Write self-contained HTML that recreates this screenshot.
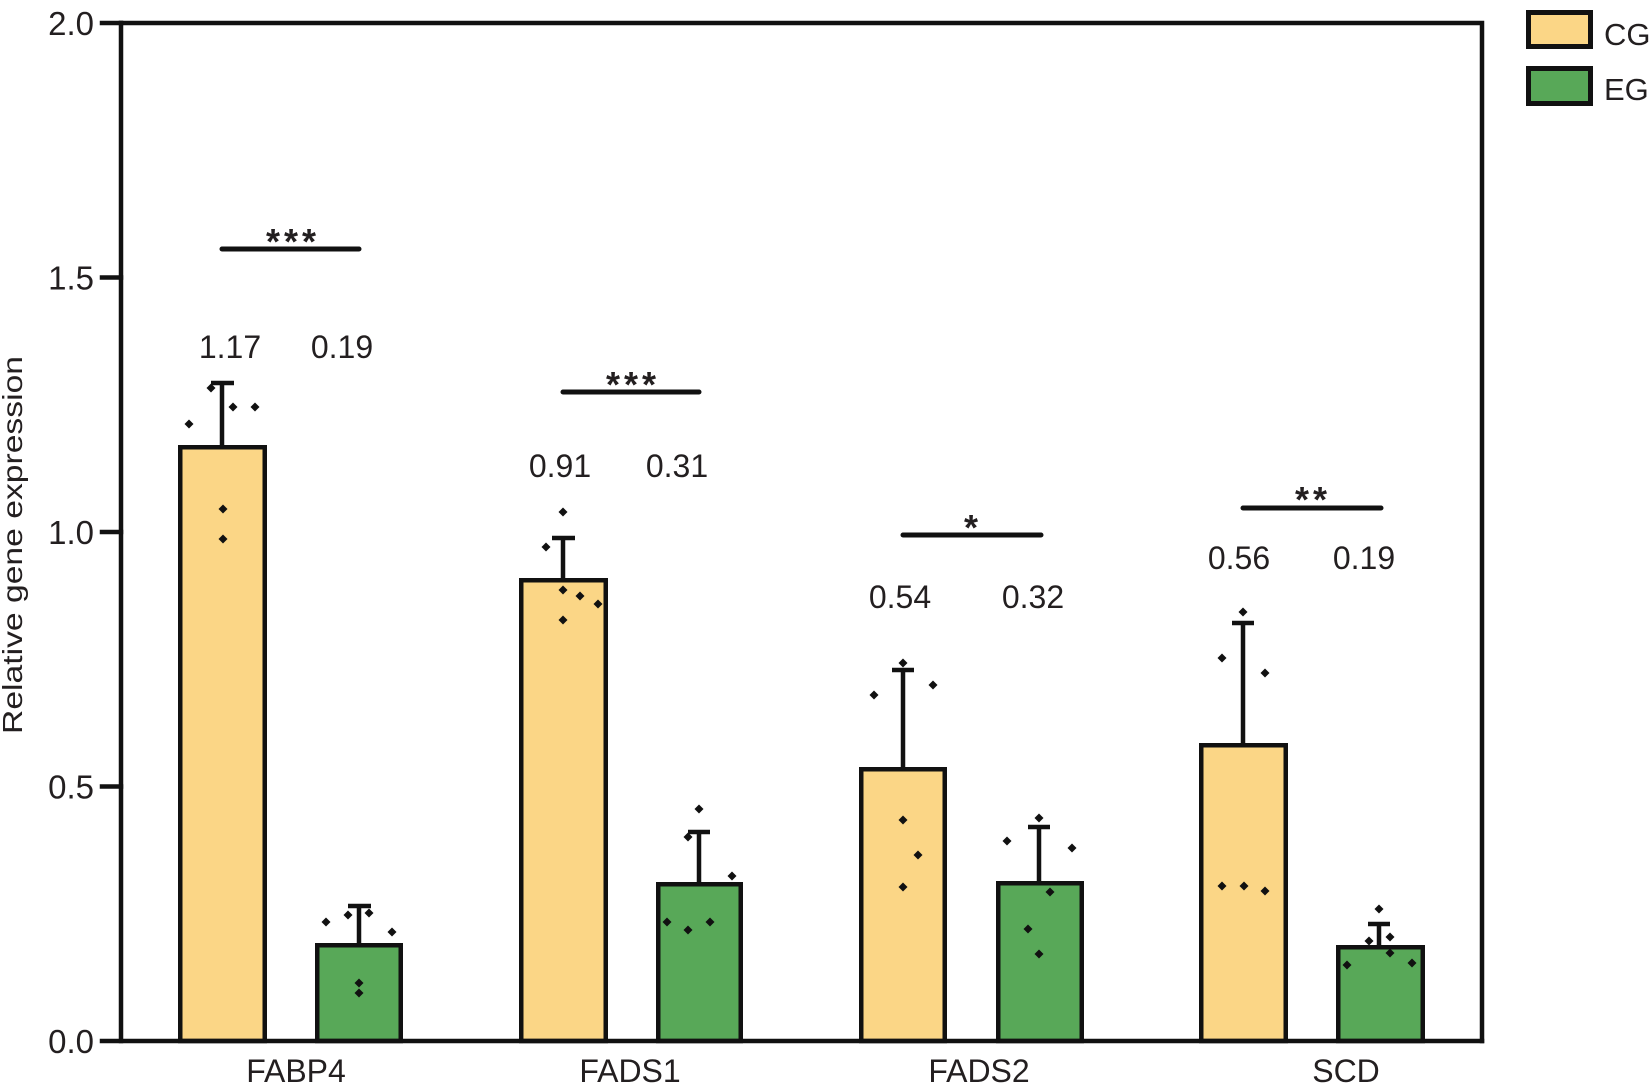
<!DOCTYPE html>
<html>
<head>
<meta charset="utf-8">
<style>
  html,body{margin:0;padding:0;background:#fff;}
  svg{display:block;}
  text{font-family:"Liberation Sans", Arial, sans-serif; fill:#231f20;}
</style>
</head>
<body>
<svg width="1651" height="1084" viewBox="0 0 1651 1084" xmlns="http://www.w3.org/2000/svg">
  <defs>
    <path id="d" d="M0 -4.5l4.5 4.5l-4.5 4.5l-4.5 -4.5z"/>
  </defs>
  <rect x="0" y="0" width="1651" height="1084" fill="#fff"/>

  <!-- Bars -->
  <g stroke="#111" stroke-width="4.5">
    <rect x="180.25" y="447.25" width="84.5" height="593.75" fill="#FBD686"/>
    <rect x="317.25" y="945.25" width="83.5" height="95.75" fill="#58A858"/>
    <rect x="521.25" y="580.25" width="84.5" height="460.75" fill="#FBD686"/>
    <rect x="658.25" y="884.25" width="82.5" height="156.75" fill="#58A858"/>
    <rect x="861.25" y="769.25" width="83.5" height="271.75" fill="#FBD686"/>
    <rect x="998.25" y="883.25" width="83.5" height="157.75" fill="#58A858"/>
    <rect x="1201.25" y="745.25" width="84.5" height="295.75" fill="#FBD686"/>
    <rect x="1338.25" y="947.25" width="84.5" height="93.75" fill="#58A858"/>
  </g>

  <!-- Error bars -->
  <g stroke="#111" stroke-width="4.5" fill="none">
    <path d="M222 447 V383 M211 383 H234"/>
    <path d="M359 945 V906 M348 906 H371"/>
    <path d="M563 580 V538 M552 538 H575"/>
    <path d="M699 884 V832 M688 832 H710"/>
    <path d="M903 769 V670 M892 670 H914"/>
    <path d="M1039 883 V827 M1028 827 H1050"/>
    <path d="M1243 745 V623 M1232 623 H1254"/>
    <path d="M1379 947 V924 M1368 924 H1390"/>
  </g>

  <!-- Dots -->
  <g fill="#111">
    <use href="#d" x="189" y="424"/><use href="#d" x="211" y="388"/><use href="#d" x="233" y="407"/>
    <use href="#d" x="255" y="407"/><use href="#d" x="223" y="509"/><use href="#d" x="223" y="539"/>

    <use href="#d" x="326" y="922"/><use href="#d" x="348" y="915"/><use href="#d" x="369" y="913"/>
    <use href="#d" x="392" y="932"/><use href="#d" x="359" y="983"/><use href="#d" x="359" y="993"/>

    <use href="#d" x="563" y="512"/><use href="#d" x="546" y="547"/><use href="#d" x="563" y="590"/>
    <use href="#d" x="580" y="596"/><use href="#d" x="598" y="604"/><use href="#d" x="563" y="620"/>

    <use href="#d" x="699" y="809"/><use href="#d" x="688" y="837"/><use href="#d" x="732" y="876"/>
    <use href="#d" x="667" y="922"/><use href="#d" x="688" y="930"/><use href="#d" x="710" y="922"/>

    <use href="#d" x="903" y="663"/><use href="#d" x="874" y="695"/><use href="#d" x="933" y="685"/>
    <use href="#d" x="903" y="820"/><use href="#d" x="918" y="855"/><use href="#d" x="903" y="887"/>

    <use href="#d" x="1039" y="818"/><use href="#d" x="1007" y="841"/><use href="#d" x="1072" y="848"/>
    <use href="#d" x="1050" y="892"/><use href="#d" x="1028" y="929"/><use href="#d" x="1039" y="954"/>

    <use href="#d" x="1243" y="612"/><use href="#d" x="1222" y="658"/><use href="#d" x="1265" y="673"/>
    <use href="#d" x="1222" y="886"/><use href="#d" x="1244" y="886"/><use href="#d" x="1265" y="891"/>

    <use href="#d" x="1379" y="909"/><use href="#d" x="1369" y="941"/><use href="#d" x="1390" y="937"/>
    <use href="#d" x="1390" y="953"/><use href="#d" x="1347" y="965"/><use href="#d" x="1412" y="963"/>
  </g>

  <!-- Frame and axes -->
  <g stroke="#111" stroke-width="4.5" fill="none" stroke-linecap="square">
    <path d="M121 23 H1482 V1041"/>
    <path d="M121 23 V1041"/>
    <path d="M102 1041 H1482"/>
    <path d="M102 23 H121 M102 277.5 H121 M102 532 H121 M102 786.5 H121"/>
  </g>

  <!-- Tick labels -->
  <g font-size="33" text-anchor="end">
    <text x="94" y="35">2.0</text>
    <text x="94" y="289.5">1.5</text>
    <text x="94" y="544">1.0</text>
    <text x="94" y="798.5">0.5</text>
    <text x="94" y="1053">0.0</text>
  </g>

  <!-- Y axis label -->
  <text transform="translate(22,545) rotate(-90)" font-size="28" text-anchor="middle" textLength="378" lengthAdjust="spacingAndGlyphs">Relative gene expression</text>

  <!-- Category labels -->
  <g font-size="32" text-anchor="middle">
    <text x="296" y="1082">FABP4</text>
    <text x="630" y="1082">FADS1</text>
    <text x="979" y="1082">FADS2</text>
    <text x="1346" y="1082">SCD</text>
  </g>

  <!-- Value labels -->
  <g font-size="32" text-anchor="middle">
    <text x="230" y="358">1.17</text>
    <text x="342" y="358">0.19</text>
    <text x="560" y="477">0.91</text>
    <text x="677" y="477">0.31</text>
    <text x="900" y="608">0.54</text>
    <text x="1033" y="608">0.32</text>
    <text x="1239" y="569">0.56</text>
    <text x="1364" y="569">0.19</text>
  </g>

  <!-- Significance lines -->
  <g stroke="#111" stroke-width="5" stroke-linecap="round">
    <path d="M222 249 H359"/>
    <path d="M563 392 H699"/>
    <path d="M903 535 H1041"/>
    <path d="M1243 508 H1381"/>
  </g>
  <g font-size="36" text-anchor="middle" font-weight="bold">
    <text x="273" y="254">*</text>
    <text x="291" y="254">*</text>
    <text x="309" y="254">*</text>
    <text x="613" y="397">*</text>
    <text x="631" y="397">*</text>
    <text x="649" y="397">*</text>
    <text x="971" y="540">*</text>
    <text x="1302" y="512">*</text>
    <text x="1320" y="512">*</text>
  </g>

  <!-- Legend -->
  <rect x="1528.5" y="12.5" width="62" height="34" fill="#FBD686" stroke="#111" stroke-width="5"/>
  <rect x="1528.5" y="68.5" width="62" height="35" fill="#58A858" stroke="#111" stroke-width="5"/>
  <text x="1604" y="45" font-size="31">CG</text>
  <text x="1604" y="100" font-size="31">EG</text>
</svg>
</body>
</html>
